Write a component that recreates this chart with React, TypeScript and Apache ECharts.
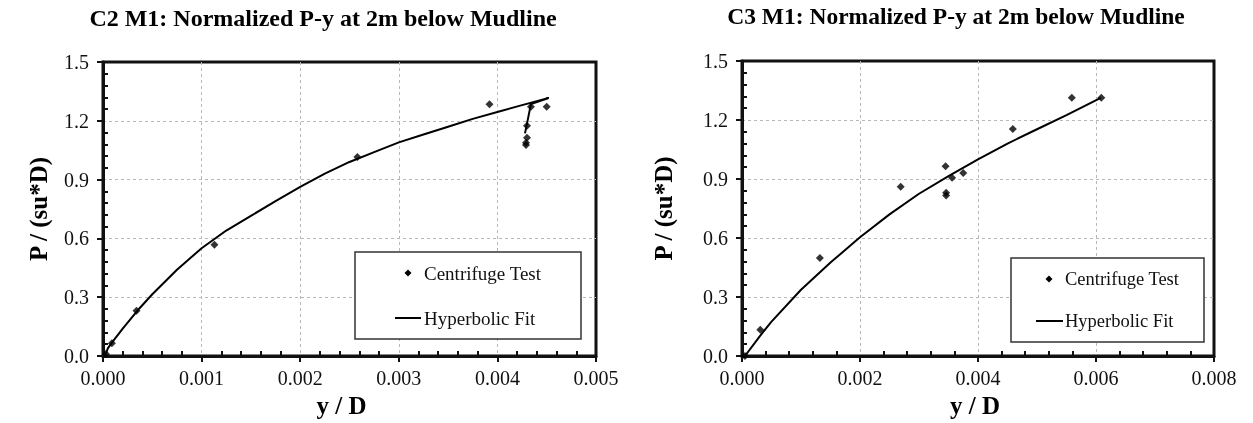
import React, { useEffect, useRef } from "react";
import * as echarts from "echarts";

// ---------- Data ----------
const C2_TITLE = "C2 M1: Normalized P-y at 2m below Mudline";
const C3_TITLE = "C3 M1: Normalized P-y at 2m below Mudline";

// C2: centrifuge test points
const C2_TEST_X = [0.00003, 0.00009, 0.00034, 0.00113, 0.00258, 0.00392, 0.0045, 0.00434, 0.0043, 0.0043, 0.00429, 0.00429];
const C2_TEST_Y = [0.01, 0.065, 0.231, 0.568, 1.015, 1.284, 1.272, 1.272, 1.175, 1.114, 1.088, 1.077];
// C2: hyperbolic fit (drawn in data order, with the final back-turn)
const C2_FIT_X = [0.00002, 0.00005, 0.0001, 0.0002, 0.00035, 0.0005, 0.00075, 0.001, 0.00125, 0.0015, 0.00175, 0.002, 0.00225, 0.0025, 0.00275, 0.003, 0.00325, 0.0035, 0.00375, 0.004, 0.00425, 0.00452, 0.00434, 0.00428];
const C2_FIT_Y = [0.0, 0.04, 0.075, 0.14, 0.232, 0.315, 0.44, 0.55, 0.64, 0.715, 0.79, 0.863, 0.93, 0.99, 1.04, 1.09, 1.13, 1.17, 1.21, 1.245, 1.28, 1.316, 1.285, 1.136];

// C3: centrifuge test points
const C3_TEST_X = [0.00005, 0.00031, 0.00132, 0.00269, 0.00345, 0.00346, 0.00346, 0.00356, 0.00375, 0.00459, 0.00559, 0.00609];
const C3_TEST_Y = [0.0, 0.133, 0.498, 0.86, 0.965, 0.83, 0.816, 0.906, 0.931, 1.154, 1.313, 1.313];
// C3: hyperbolic fit
const C3_FIT_X = [0.00005, 0.0003, 0.0005, 0.001, 0.0015, 0.002, 0.0025, 0.003, 0.0035, 0.004, 0.0045, 0.005, 0.0055, 0.00608];
const C3_FIT_Y = [0.0, 0.1, 0.175, 0.337, 0.475, 0.604, 0.72, 0.825, 0.915, 1.0, 1.08, 1.153, 1.225, 1.313];

const LEGEND_TEST = "Centrifuge Test";
const LEGEND_FIT = "Hyperbolic Fit";
const X_NAME = "y / D";
const Y_NAME = "P / (su*D)";

const zip = (xs: number[], ys: number[]) => xs.map((x, i) => [x, ys[i]]);
const FONT = "'Liberation Serif', 'Times New Roman', serif";
const INK = "#111111";

function mainAxes(gridIndex: number, xMax: number, xInt: number, yNameGap: number, xNamePadRight: number) {
  const common: any = {
    gridIndex,
    type: "value",
    nameLocation: "middle",
    axisLine: { show: true, onZero: false, lineStyle: { color: INK, width: 3 } },
    axisTick: { show: true, length: 6, lineStyle: { color: INK, width: 2 } },
    splitLine: {
      show: true,
      showMinLine: false,
      showMaxLine: false,
      lineStyle: { color: "#b8b8b8", width: 1, type: [3, 3] },
    },
  };
  const x: any = {
    ...common,
    min: 0,
    max: xMax,
    interval: xInt,
    position: "bottom",
    name: X_NAME,
    nameGap: 37,
    nameTextStyle: { fontFamily: FONT, fontSize: 25, fontWeight: "bold", color: "#000", padding: [0, xNamePadRight, 0, 0] },
    axisLabel: { formatter: (v: number) => v.toFixed(3), margin: 12, fontFamily: FONT, fontSize: 20, color: INK },
  };
  const y: any = {
    ...common,
    min: 0,
    max: 1.5,
    interval: 0.3,
    position: "left",
    name: Y_NAME,
    nameGap: yNameGap,
    nameTextStyle: { fontFamily: FONT, fontSize: 25, fontWeight: "bold", color: "#000" },
    axisLabel: { formatter: (v: number) => v.toFixed(1), margin: 14, fontFamily: FONT, fontSize: 20, color: INK },
  };
  return { x, y };
}

// Overlaid axis that only draws the inward-pointing minor ticks
function minorAxis(gridIndex: number, max: number, interval: number, position: string) {
  return {
    gridIndex,
    type: "value",
    min: 0,
    max,
    interval,
    position,
    axisLine: { show: false, onZero: false },
    axisTick: { show: false, inside: true },
    minorTick: { show: true, splitNumber: 5, length: 5, lineStyle: { color: INK, width: 2 } },
    axisLabel: { show: false },
    splitLine: { show: false },
  };
}

function legendBox(x: number, y: number, w: number, h: number, fs: number, markerX: number, textX: number, row1: number, row2: number, lineX1: number, lineX2: number) {
  return [
    { type: "rect", z: 100, shape: { x, y, width: w, height: h }, style: { fill: "#fff", stroke: "#333", lineWidth: 1.5 } },
    {
      type: "polygon",
      z: 101,
      shape: { points: [[markerX, row1 - 3.5], [markerX + 3.5, row1], [markerX, row1 + 3.5], [markerX - 3.5, row1]] },
      style: { fill: "#000" },
    },
    { type: "text", z: 101, x: textX, y: row1, style: { text: LEGEND_TEST, font: `${fs}px ${FONT}`, fill: INK, textAlign: "left", textVerticalAlign: "middle" } },
    { type: "line", z: 101, shape: { x1: lineX1, y1: row2, x2: lineX2, y2: row2 }, style: { stroke: "#000", lineWidth: 2 } },
    { type: "text", z: 101, x: textX, y: row2, style: { text: LEGEND_FIT, font: `${fs}px ${FONT}`, fill: INK, textAlign: "left", textVerticalAlign: "middle" } },
  ];
}

export default function App() {
  const ref = useRef<HTMLDivElement>(null);

  useEffect(() => {
    if (!ref.current) return;
    const chart = echarts.init(ref.current, undefined, { renderer: "svg" });

    const a0 = mainAxes(0, 0.005, 0.001, 52, 16);
    const a1 = mainAxes(1, 0.008, 0.002, 66, 6);

    const option: any = {
      animation: false,
      grid: [
        { left: 103, top: 62, width: 493, height: 295, show: true, borderColor: INK, borderWidth: 3 },
        { left: 742, top: 61, width: 472, height: 296, show: true, borderColor: INK, borderWidth: 3 },
      ],
      xAxis: [a0.x, minorAxis(0, 0.005, 0.001, "bottom"), a1.x, minorAxis(1, 0.008, 0.002, "bottom")],
      yAxis: [a0.y, minorAxis(0, 1.5, 0.3, "left"), a1.y, minorAxis(1, 1.5, 0.3, "left")],
      series: [
        { name: LEGEND_FIT, type: "line", xAxisIndex: 0, yAxisIndex: 0, data: zip(C2_FIT_X, C2_FIT_Y), showSymbol: false, symbol: "none", lineStyle: { color: "#000", width: 2 }, z: 3 },
        { name: LEGEND_TEST, type: "scatter", xAxisIndex: 0, yAxisIndex: 0, data: zip(C2_TEST_X, C2_TEST_Y), symbol: "diamond", symbolSize: 8, itemStyle: { color: "#000" }, z: 4 },
        { name: LEGEND_FIT, type: "line", xAxisIndex: 2, yAxisIndex: 2, data: zip(C3_FIT_X, C3_FIT_Y), showSymbol: false, symbol: "none", lineStyle: { color: "#000", width: 2 }, z: 3 },
        { name: LEGEND_TEST, type: "scatter", xAxisIndex: 2, yAxisIndex: 2, data: zip(C3_TEST_X, C3_TEST_Y), symbol: "diamond", symbolSize: 8, itemStyle: { color: "#000" }, z: 4 },
      ],
      graphic: [
        { type: "text", x: 323, y: 17.5, style: { text: C2_TITLE, font: `bold 24px ${FONT}`, fill: "#000", textAlign: "center", textVerticalAlign: "middle" } },
        { type: "text", x: 956, y: 16, style: { text: C3_TITLE, font: `bold 23.5px ${FONT}`, fill: "#000", textAlign: "center", textVerticalAlign: "middle" } },
        ...legendBox(355, 252, 226, 87, 19, 408, 424, 273, 318, 395, 421),
        ...legendBox(1011, 258, 193, 84, 18.5, 1049, 1065, 279, 321, 1036, 1063),
      ],
    };

    chart.setOption(option);
    return () => chart.dispose();
  }, []);

  return <div ref={ref} style={{ position: "fixed", left: 0, top: 0, width: 1253, height: 423 }} />;
}
